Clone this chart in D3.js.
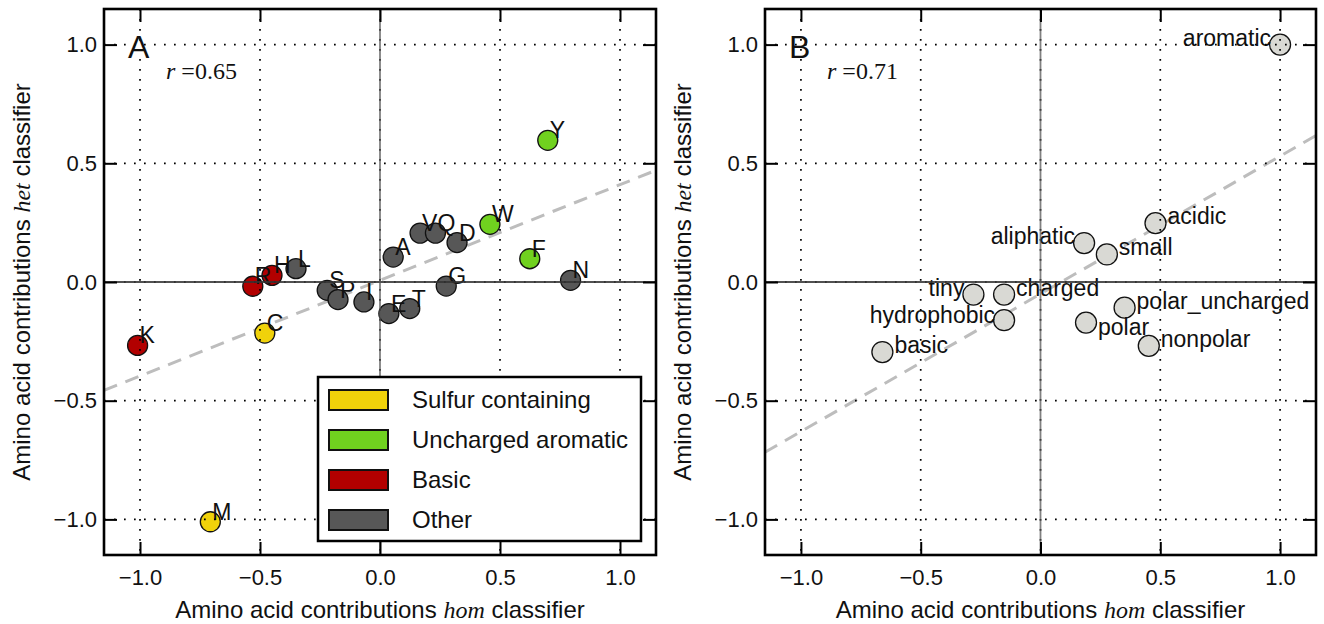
<!DOCTYPE html>
<html>
<head>
<meta charset="utf-8">
<script src="https://cdn.jsdelivr.net/npm/d3@7"></script>
<style>
  body { margin: 0; background: #fff; }
  text { fill: #111; }
</style>
</head>
<body>
<script>
// panel A: amino acids
var aaNames = ["K", "C", "R", "H", "L", "S", "P", "I", "E", "T", "A", "V", "Q", "D", "G", "W", "F", "N", "Y", "M"];
var aaHom   = [-1.01, -0.48, -0.53, -0.45, -0.35, -0.22, -0.175, -0.067, 0.037, 0.124, 0.055, 0.167, 0.231, 0.321, 0.276, 0.458, 0.624, 0.794, 0.699, -0.707];
var aaHet   = [-0.267, -0.215, -0.018, 0.028, 0.056, -0.035, -0.074, -0.084, -0.133, -0.112, 0.105, 0.206, 0.206, 0.166, -0.017, 0.243, 0.098, 0.007, 0.597, -1.01];
var aaGroup = ["Basic", "Sulfur containing", "Basic", "Basic", "Other", "Other", "Other", "Other", "Other", "Other", "Other", "Other", "Other", "Other", "Other", "Uncharged aromatic", "Uncharged aromatic", "Other", "Uncharged aromatic", "Sulfur containing"];

var groupNames  = ["Sulfur containing", "Uncharged aromatic", "Basic", "Other"];
var groupColors = ["#f0d20a", "#70d11f", "#b20000", "#575757"];

// panel B: property groups
var propNames = ["aromatic", "acidic", "aliphatic", "small", "tiny", "charged", "hydrophobic", "basic", "polar_uncharged", "polar", "nonpolar"];
var propHom   = [1.0, 0.48, 0.182, 0.277, -0.28, -0.152, -0.152, -0.66, 0.351, 0.19, 0.452];
var propHet   = [1.0, 0.248, 0.164, 0.116, -0.053, -0.053, -0.161, -0.295, -0.108, -0.171, -0.269];
var propSide  = ["left", "right", "left", "right", "left", "right", "left", "right", "right", "right", "right"];

var tickValues = [-1.0, -0.5, 0.0, 0.5, 1.0];

// correlation and fitted line for each panel
var rA = "0.65", rB = "0.71";
var fitA = [0.403, 0.007];   // slope, intercept
var fitB = [0.58, -0.05];

var sans = "Liberation Sans, Arial, sans-serif",
	serif = "Liberation Serif, Times New Roman, serif";

var W = 1324, H = 624;
var svg = d3.select("body").append("svg")
  .attr("width", W).attr("height", H)
  .style("font-family", sans);

var plotTop = 9, plotBottom = 555;

function panel(left, right, letter, rText, fit, id) {
  var g = svg.append("g");
  var x = d3.scaleLinear().domain([-1.15, 1.15]).range([left, right]);
  var y = d3.scaleLinear().domain([-1.15, 1.15]).range([plotBottom, plotTop]);

  g.append("clipPath").attr("id", id)
    .append("rect").attr("x", left).attr("y", plotTop)
    .attr("width", right - left).attr("height", plotBottom - plotTop);

  var inner = g.append("g").attr("clip-path", "url(#" + id + ")");

  // dashed fit line
  inner.append("line")
    .attr("x1", x(-1.15)).attr("y1", y(fit[0] * -1.15 + fit[1]))
    .attr("x2", x(1.15)).attr("y2", y(fit[0] * 1.15 + fit[1]))
    .attr("stroke", "#bdbdbd").attr("stroke-width", 3)
    .attr("stroke-dasharray", "14,9");

  var marks = inner.append("g");
  var labels = inner.append("g");
  var grid = inner.append("g");

  tickValues.forEach(function(v) {
    grid.append("line")
      .attr("x1", x(v)).attr("x2", x(v)).attr("y1", plotTop).attr("y2", plotBottom)
      .attr("stroke", "#000").attr("stroke-width", 1.7).attr("stroke-dasharray", "1.7,8.3");
    grid.append("line")
      .attr("y1", y(v)).attr("y2", y(v)).attr("x1", left).attr("x2", right)
      .attr("stroke", "#000").attr("stroke-width", 1.7).attr("stroke-dasharray", "1.7,8.3");
  });
  // zero lines
  grid.append("line")
    .attr("x1", left).attr("x2", right).attr("y1", y(0)).attr("y2", y(0))
    .attr("stroke", "#333").attr("stroke-width", 1.8).attr("stroke-opacity", 0.85);
  grid.append("line")
    .attr("x1", x(0)).attr("x2", x(0)).attr("y1", plotTop).attr("y2", plotBottom)
    .attr("stroke", "#555").attr("stroke-width", 1.8).attr("stroke-opacity", 0.75);

  // axes with inward ticks
  var fmt = d3.format(".1f");
  var ax = g.append("g").attr("transform", "translate(0," + plotBottom + ")")
    .call(d3.axisBottom(x).tickValues(tickValues).tickFormat(fmt).tickSizeInner(-13).tickSizeOuter(0).tickPadding(14));
  var ay = g.append("g").attr("transform", "translate(" + left + ",0)")
    .call(d3.axisLeft(y).tickValues(tickValues).tickFormat(fmt).tickSizeInner(-13).tickSizeOuter(0).tickPadding(7));
  var at = g.append("g").attr("transform", "translate(0," + plotTop + ")")
    .call(d3.axisTop(x).tickValues(tickValues).tickFormat("").tickSizeInner(-13).tickSizeOuter(0));
  var ar = g.append("g").attr("transform", "translate(" + right + ",0)")
    .call(d3.axisRight(y).tickValues(tickValues).tickFormat("").tickSizeInner(-13).tickSizeOuter(0));
  [ax, ay, at, ar].forEach(function(a) {
    a.select(".domain").remove();
    a.attr("font-family", sans);
    a.selectAll(".tick line").attr("stroke", "#000").attr("stroke-width", 2);
    a.selectAll(".tick text").attr("font-size", 22).attr("fill", "#111");
  });

  // frame
  g.append("rect").attr("x", left).attr("y", plotTop)
    .attr("width", right - left).attr("height", plotBottom - plotTop)
    .attr("fill", "none").attr("stroke", "#000").attr("stroke-width", 2.6);

  // panel letter and r
  g.append("text").attr("x", left + 24).attr("y", plotTop + 49)
    .attr("font-size", 32).text(letter);
  var rt = g.append("text").attr("x", left + 62).attr("y", 79)
    .attr("font-size", 24).style("font-family", serif);
  rt.append("tspan").attr("font-style", "italic").text("r");
  rt.append("tspan").text(" =" + rText);

  // axis labels
  var cx = (left + right) / 2, cy = (plotTop + plotBottom) / 2;
  var xl = g.append("text").attr("x", cx).attr("y", 618)
    .attr("text-anchor", "middle").attr("font-size", 24);
  xl.append("tspan").text("Amino acid contributions ");
  xl.append("tspan").style("font-family", serif).attr("font-style", "italic").text("hom");
  xl.append("tspan").text(" classifier");

  var yl = g.append("text")
    .attr("transform", "translate(" + (left - 74) + "," + cy + ") rotate(-90)")
    .attr("text-anchor", "middle").attr("font-size", 24);
  yl.append("tspan").text("Amino acid contributions ");
  yl.append("tspan").style("font-family", serif).attr("font-style", "italic").text("het");
  yl.append("tspan").text(" classifier");

  return { g: g, x: x, y: y, marks: marks, labels: labels };
}

// ---- panel A
var A = panel(104, 656, "A", rA, fitA, "clipA");
aaNames.forEach(function(n, i) {
  A.marks.append("circle")
    .attr("cx", A.x(aaHom[i])).attr("cy", A.y(aaHet[i])).attr("r", 10)
    .attr("fill", groupColors[groupNames.indexOf(aaGroup[i])])
    .attr("stroke", "#111").attr("stroke-width", 1.3);
});
aaNames.forEach(function(n, i) {
  A.labels.append("text")
    .attr("x", A.x(aaHom[i]) + 2).attr("y", A.y(aaHet[i]) - 2)
    .attr("font-size", 23).text(n);
});

// legend
var leg = A.g.append("g").attr("transform", "translate(318,377)");
leg.append("rect").attr("width", 323).attr("height", 164)
  .attr("fill", "#fff").attr("stroke", "#000").attr("stroke-width", 2.5);
groupNames.forEach(function(n, i) {
  leg.append("rect").attr("x", 11).attr("y", 13 + i * 40).attr("width", 59).attr("height", 20)
    .attr("fill", groupColors[i]).attr("stroke", "#111").attr("stroke-width", 2);
  leg.append("text").attr("x", 94).attr("y", 31 + i * 40)
    .attr("font-size", 24).text(n);
});

// ---- panel B
var B = panel(765, 1316, "B", rB, fitB, "clipB");
propNames.forEach(function(n, i) {
  B.marks.append("circle")
    .attr("cx", B.x(propHom[i])).attr("cy", B.y(propHet[i])).attr("r", 10.5)
    .attr("fill", "#d9d9d4")
    .attr("stroke", "#111").attr("stroke-width", 1.3);
});
propNames.forEach(function(n, i) {
  var dy = n === "polar" ? 12 : (n === "hydrophobic" ? 3 : 1);
  B.labels.append("text")
    .attr("x", B.x(propHom[i]) + (propSide[i] === "left" ? -9 : 12))
    .attr("y", B.y(propHet[i]) + dy)
    .attr("text-anchor", propSide[i] === "left" ? "end" : "start")
    .attr("font-size", 23).text(n);
});
</script>
</body>
</html>
